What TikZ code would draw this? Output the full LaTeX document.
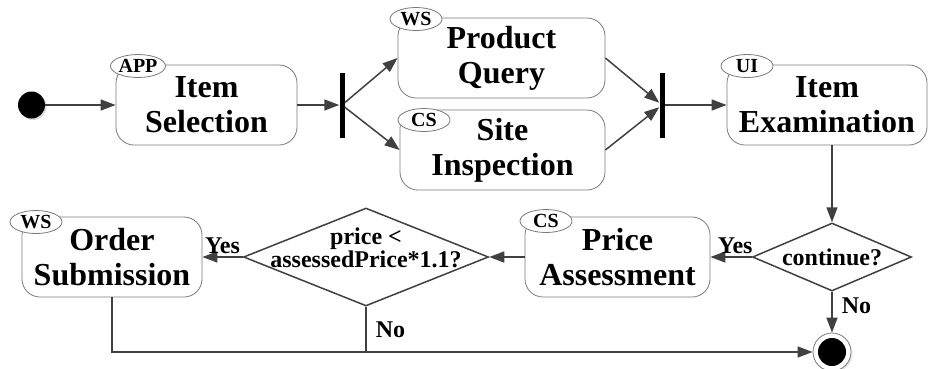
\documentclass[tikz,border=0pt]{standalone}
\usepackage{fontspec}
\setmainfont{Liberation Serif}
\usepackage{tikz}
\usetikzlibrary{shapes.geometric, arrows.meta, shadows}
\definecolor{flowgray}{HTML}{404040}
\definecolor{edgegray}{HTML}{7A7A7A}
\newcommand{\guardtext}[1]{\smash{\makebox[0pt]{\begin{tabular}{@{}c@{}}#1\end{tabular}}}}

\begin{document}
\begin{tikzpicture}[
    x=1pt, y=-1pt,
    activity/.style={rectangle, draw=edgegray, line width=0.8pt, fill=white,
                    minimum height=80pt, inner sep=0pt, align=center,
                    rounded corners=18pt, font=\bfseries\fontsize{32}{35}\selectfont},
    tag/.style={ellipse, draw=edgegray, line width=0.8pt, fill=white,
               minimum width=52pt, minimum height=23pt, inner sep=0pt,
               font=\bfseries\fontsize{20}{20}\selectfont},
    decision/.style={diamond, draw=flowgray, line width=1.5pt, fill=white,
                    inner sep=0pt, text=black, font=\bfseries\fontsize{24}{22}\selectfont},
    bar/.style={rectangle, fill=black, minimum width=5pt, minimum height=65pt,
               inner sep=0pt},
    guard/.style={font=\bfseries\fontsize{24}{24}\selectfont, text=black, inner sep=3pt},
    flow/.style={line width=1.5pt, flowgray},
    arrow/.style={-{Triangle[length=15pt,width=11pt]}, line width=1.5pt, flowgray}
]
\useasboundingbox (0,0) rectangle (930,368);

% Start and end
\node[circle, fill=black, minimum size=27pt, inner sep=0pt,
      drop shadow={shadow xshift=1.5pt, shadow yshift=-1.5pt, fill=gray!50, opacity=0.6}] (start) at (31.5,105) {};
\node[circle, draw=edgegray, line width=0.8pt, fill=white, minimum size=38pt, inner sep=0pt,
      drop shadow={shadow xshift=1.5pt, shadow yshift=-1.5pt, fill=gray!40, opacity=0.5}] (final) at (832,352) {};
\node[circle, fill=black, minimum size=28pt, inner sep=0pt] (final-dot) at (final) {};

% Upper row
\node[activity, minimum width=181pt] (sel) at (206.5,105) {Item\\Selection};
\node[tag] (sel-tag) at (138,66) {APP};
\node[bar] (fork) at (342,105) {};
\node[activity, minimum width=207pt] (query) at (501.5,58) {Product\\Query};
\node[tag] (query-tag) at (416,19) {WS};
\node[activity, minimum width=205pt] (site) at (502.5,150) {Site\\Inspection};
\node[tag] (site-tag) at (424,120) {CS};
\node[bar] (join) at (662,105) {};
\node[activity, minimum width=200pt] (exam) at (827,105) {Item\\Examination};
\node[tag] (exam-tag) at (747,66) {UI};

% Lower row
\node[decision, minimum width=159pt, minimum height=68pt, shape aspect=2.34] (cont) at (832,257)
    {continue?};
\node[activity, minimum width=185pt] (price) at (617.5,257) {Price\\Assessment};
\node[tag] (price-tag) at (546,221) {CS};
\node[decision, minimum width=245pt, minimum height=98pt] (check) at (366,257)
    {\guardtext{price <\\assessedPrice*1.1?}};
\node[activity, minimum width=180pt] (order) at (112,257) {Order\\Submission};
\node[tag] (order-tag) at (36,222) {WS};

% Arrows
\draw[arrow] (start) -- (sel);
\draw[arrow] (sel) -- (fork);
\draw[arrow] (fork) -- (query.west);
\draw[arrow] (fork) -- (site.west);
\draw[arrow] (query.east) -- (join);
\draw[arrow] (site.east) -- (join);
\draw[arrow] (join) -- (exam);
\draw[arrow] (cont |- exam.south) -- (cont);
\draw[arrow] (cont) -- node[guard, above, pos=0.4] {Yes} (price);
\draw[arrow] (cont) -- node[guard, right=6pt, pos=0.35] {No} (final);
\draw[arrow] (price) -- (check);
\draw[arrow] (check) -- node[guard, above] {Yes} (order);
\draw[flow] (check) -- node[guard, right=6pt, pos=0.5] {No} (check |- final);
\draw[arrow] (order) |- (final);

\end{tikzpicture}
\end{document}
